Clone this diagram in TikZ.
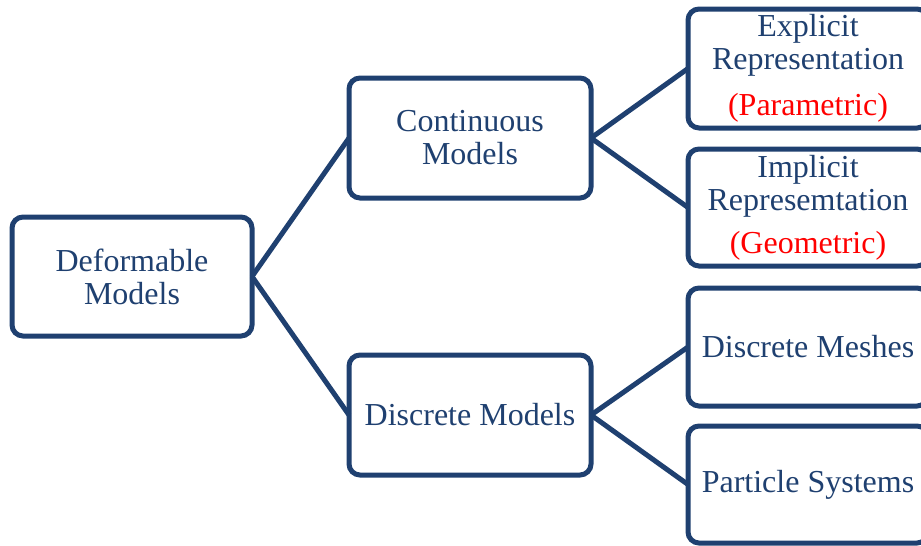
\documentclass[tikz,border=0pt]{standalone}
\usepackage{fontspec}
\setmainfont{Liberation Serif}
\definecolor{navy}{RGB}{31,64,112}
\definecolor{note}{RGB}{255,0,0}
\tikzset{
  box/.style={draw=navy, line width=5pt, rounded corners=11pt, fill=white,
    minimum width=240pt, minimum height=119pt, inner sep=0pt, outer sep=0pt,
    align=center, text=navy, font=\fontsize{32}{33}\selectfont},
  link/.style={draw=navy, line width=5pt}
}
\begin{document}
\begin{tikzpicture}[x=1pt,y=-1pt]
\useasboundingbox (0,0) rectangle (921,546);
% tree levels: root, two model classes, four leaves
\node[box] (deform) at (132,276.5) {Deformable\\Models};
\node[box, minimum width=242pt, minimum height=120pt] (cont) at (470,138) {Continuous\\Models};
\node[box, minimum width=242pt, minimum height=120pt] (disc) at (470,415) {Discrete Models};
\node[box] (expl) at (808,68.5) {Explicit\\Representation\\[13pt]\textcolor{note}{(Parametric)}};
\node[box, minimum height=117pt] (impl) at (808,207.5) {Implicit\\Represemtation\\[10pt]\textcolor{note}{(Geometric)}};
\node[box, minimum height=118pt] (mesh) at (808,347) {Discrete Meshes};
\node[box, minimum height=117pt] (part) at (808,484.5) {Particle Systems};
% branches
\draw[link] (deform.east) -- (cont.west);
\draw[link] (deform.east) -- (disc.west);
\draw[link] (cont.east) -- (expl.west);
\draw[link] (cont.east) -- (impl.west);
\draw[link] (disc.east) -- (mesh.west);
\draw[link] (disc.east) -- (part.west);
\end{tikzpicture}
\end{document}
